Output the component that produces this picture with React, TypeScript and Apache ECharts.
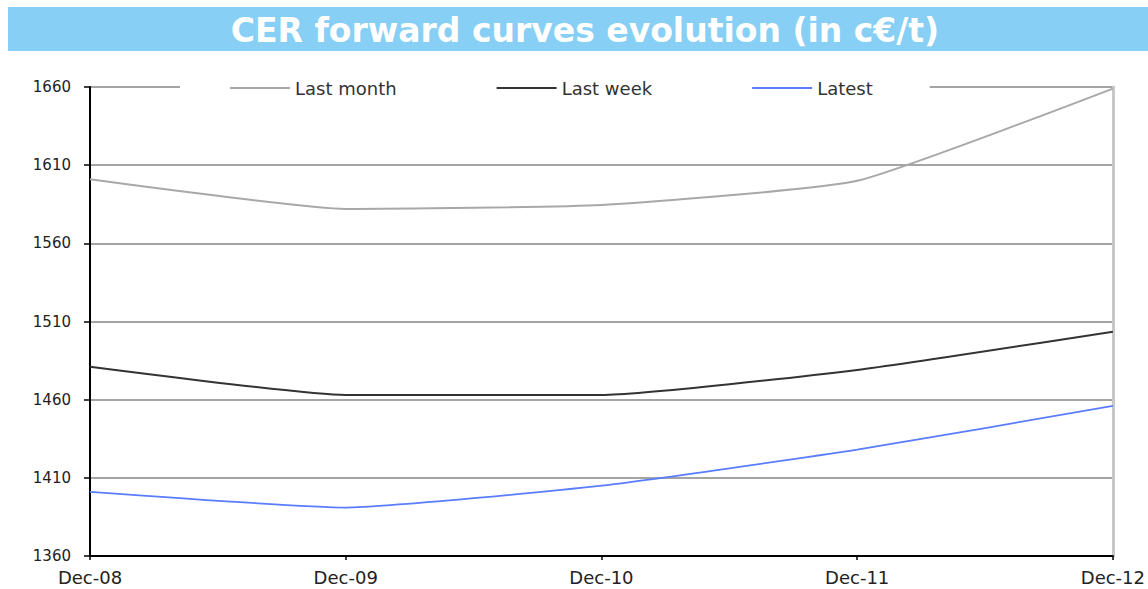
import React, { useEffect, useRef } from "react";
import * as echarts from "echarts";

const categories = ["Dec-08", "Dec-09", "Dec-10", "Dec-11", "Dec-12"];
const lastMonth = [1601, 1582, 1584.5, 1600, 1659];
const lastWeek = [1481, 1463, 1463, 1479, 1503.5];
const latest = [1401, 1391, 1405, 1428, 1456];
const yMin = 1360;
const yMax = 1660;
const yStep = 50;
const titleText = "CER forward curves evolution (in c€/t)";

export default function App() {
  const ref = useRef<HTMLDivElement>(null);
  useEffect(() => {
    document.body.style.margin = "0";
    if (!ref.current) return;
    const chart = echarts.init(ref.current, null, { renderer: "svg" });
    const font = "DejaVu Sans";
    chart.setOption({
      animation: false,
      backgroundColor: "#ffffff",
      textStyle: { fontFamily: font },
      graphic: [
        {
          type: "rect",
          shape: { x: 8, y: 7, width: 1140, height: 44 },
          style: { fill: "#87CFF5" },
          z: 0,
        },
        {
          type: "text",
          x: 585,
          y: 30,
          style: {
            text: titleText,
            fill: "#ffffff",
            font: `bold 33px ${font}`,
            textAlign: "center",
            textVerticalAlign: "middle",
          },
          z: 1,
        },
      ],
      legend: {
        left: 180,
        top: 75,
        backgroundColor: "#ffffff",
        padding: [4, 57, 4, 50],
        itemGap: 100,
        itemWidth: 60,
        itemHeight: 14,
        icon: "path://M0,6 L60,6 L60,8 L0,8 Z",
        textStyle: { fontFamily: font, fontSize: 18, color: "#333333" },
        data: [
          { name: "Last month", itemStyle: { color: "#a8a8a8" } },
          { name: "Last week", itemStyle: { color: "#333333" } },
          { name: "Latest", itemStyle: { color: "#5a7dff" } },
        ],
      },
      grid: { left: 90, right: 31, top: 87, bottom: 33, containLabel: false },
      xAxis: {
        type: "category",
        data: categories,
        boundaryGap: false,
        axisLine: { lineStyle: { color: "#000000", width: 2 } },
        axisTick: { show: true, length: 4, lineStyle: { color: "#000000", width: 1.5 } },
        axisLabel: { fontFamily: font, fontSize: 18, color: "#222222", margin: 12 },
        splitLine: { show: false },
      },
      yAxis: [
        {
          type: "value",
          min: yMin,
          max: yMax,
          interval: yStep,
          axisLine: { show: true, lineStyle: { color: "#000000", width: 2 } },
          axisTick: { show: true, length: 6, lineStyle: { color: "#000000", width: 1.5 } },
          axisLabel: {
            fontFamily: font,
            fontSize: 15,
            color: "#222222",
            margin: 19,
            formatter: (v: number) => String(v),
          },
          splitLine: { show: true, lineStyle: { color: "#a4a4a4", width: 2 } },
        },
        {
          type: "value",
          position: "right",
          min: yMin,
          max: yMax,
          interval: yStep,
          axisLine: { show: true, lineStyle: { color: "#c8c8c8", width: 3 } },
          axisTick: { show: false },
          axisLabel: { show: false },
          splitLine: { show: false },
        },
      ],
      series: [
        {
          name: "Last month",
          type: "line",
          data: lastMonth,
          symbol: "none",
          smooth: 0.15,
          lineStyle: { color: "#a8a8a8", width: 2 },
          itemStyle: { color: "#a8a8a8" },
        },
        {
          name: "Last week",
          type: "line",
          data: lastWeek,
          symbol: "none",
          smooth: 0.15,
          lineStyle: { color: "#333333", width: 2 },
          itemStyle: { color: "#333333" },
        },
        {
          name: "Latest",
          type: "line",
          data: latest,
          symbol: "none",
          smooth: 0.15,
          lineStyle: { color: "#5a7dff", width: 1.8 },
          itemStyle: { color: "#5a7dff" },
        },
      ],
    });
    return () => chart.dispose();
  }, []);
  return <div ref={ref} style={{ width: 1148, height: 589 }} />;
}
